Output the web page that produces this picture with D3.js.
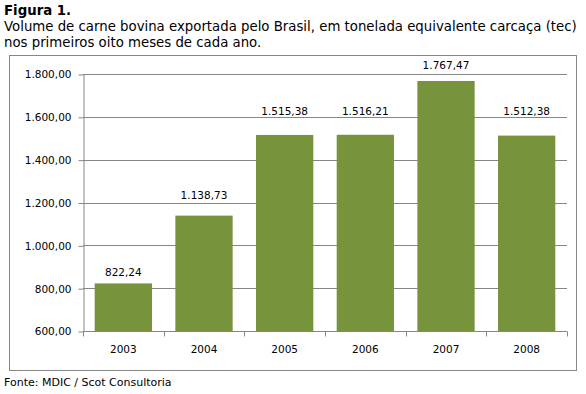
<!DOCTYPE html>
<html lang="pt">
<head>
<meta charset="UTF-8">
<title>Figura 1</title>
<style>
    body { margin: 0; background: #fff; }
    text { font-family: "DejaVu Sans", Verdana, sans-serif; }
</style>
</head>
<body>
<script src="https://d3js.org/d3.v7.min.js"></script>
<script>
    var years = ['2003', '2004', '2005', '2006', '2007', '2008'];
    var volumes = [822.24, 1138.73, 1515.38, 1516.21, 1767.47, 1512.38];
    var yTicks = [600, 800, 1000, 1200, 1400, 1600, 1800];
    // how far each data label sits above its bar (as placed in the original)
    var labelLift = [7, 17, 20, 20, 12, 21];

    var width = 586,
        height = 394,
        plot = {left: 83, right: 567, top: 74, bottom: 331};

    var fmt = d3.formatLocale({decimal: ',', thousands: '.', grouping: [3], currency: ['R$', '']}).format(',.2f');

    var svg = d3.select('body').append('svg')
                .attr('width', width)
                .attr('height', height);

    // heading
    svg.append('text').attr('x', 4).attr('y', 15)
       .attr('font-size', 13.3).attr('font-weight', 'bold')
       .text('Figura 1.');
    svg.append('text').attr('x', 4).attr('y', 31)
       .attr('font-size', 13.3)
       .text('Volume de carne bovina exportada pelo Brasil, em tonelada equivalente carcaça (tec)');
    svg.append('text').attr('x', 4).attr('y', 47)
       .attr('font-size', 13.3)
       .text('nos primeiros oito meses de cada ano.');

    // chart frame
    svg.append('rect')
       .attr('x', 9.5).attr('y', 55.5)
       .attr('width', 567).attr('height', 315)
       .attr('fill', 'none').attr('stroke', '#868686');

    var x = d3.scaleBand().domain(years).range([plot.left, plot.right]).paddingInner(0.29).paddingOuter(0.145);
    var xGrid = d3.scaleBand().domain(years).range([plot.left, plot.right]);
    var y = d3.scaleLinear().domain([600, 1800]).range([plot.bottom, plot.top]);

    // gridlines
    svg.append('g')
       .selectAll('line')
       .data(yTicks.slice(1))
       .enter().append('line')
       .attr('x1', plot.left).attr('x2', plot.right)
       .attr('y1', function(d) { return Math.round(y(d)) + 0.5; })
       .attr('y2', function(d) { return Math.round(y(d)) + 0.5; })
       .attr('stroke', '#868686');

    // bars
    svg.append('g')
       .selectAll('rect')
       .data(volumes)
       .enter().append('rect')
       .attr('x', function(d, i) { return x(years[i]); })
       .attr('width', x.bandwidth())
       .attr('y', function(d) { return y(d); })
       .attr('height', function(d) { return y(600) - y(d); })
       .attr('fill', '#77933C');

    // value labels
    svg.append('g')
       .selectAll('text')
       .data(volumes)
       .enter().append('text')
       .attr('x', function(d, i) { return x(years[i]) + x.bandwidth() / 2; })
       .attr('y', function(d, i) { return y(d) - labelLift[i]; })
       .attr('text-anchor', 'middle')
       .attr('font-size', 10.5)
       .attr('fill', '#000')
       .text(function(d) { return fmt(d); });

    // y axis
    var yAxis = d3.axisLeft(y).tickValues(yTicks).tickSize(5).tickSizeOuter(0).tickFormat(fmt);
    var gy = svg.append('g')
       .attr('transform', 'translate(' + (plot.left + 0.5) + ',0.5)')
       .call(yAxis);

    // x axis, ticks at category boundaries
    var gx = svg.append('g')
       .attr('transform', 'translate(0,' + (plot.bottom + 0.5) + ')');
    gx.append('line')
      .attr('x1', plot.left).attr('x2', plot.right)
      .attr('stroke', '#868686');
    gx.selectAll('line.tick')
      .data(years.concat(['end']))
      .enter().append('line')
      .attr('class', 'tick')
      .attr('x1', function(d, i) { return Math.round(plot.left + i * xGrid.step()) + 0.5; })
      .attr('x2', function(d, i) { return Math.round(plot.left + i * xGrid.step()) + 0.5; })
      .attr('y1', 0).attr('y2', 5)
      .attr('stroke', '#868686');
    gx.selectAll('text')
      .data(years)
      .enter().append('text')
      .attr('x', function(d) { return xGrid(d) + xGrid.bandwidth() / 2; })
      .attr('y', 21)
      .attr('text-anchor', 'middle')
      .attr('font-size', 10.5)
      .text(function(d) { return d; });

    gy.select('.domain').attr('stroke', '#868686');
    gy.selectAll('.tick line').attr('stroke', '#868686');
    gy.selectAll('.tick text')
      .attr('font-family', '"DejaVu Sans", Verdana, sans-serif')
      .attr('font-size', 10.5)
      .attr('fill', '#000')
      .attr('x', -12);

    // source
    svg.append('text').attr('x', 4).attr('y', 386)
       .attr('font-size', 11)
       .text('Fonte: MDIC / Scot Consultoria');
</script>
</body>
</html>
